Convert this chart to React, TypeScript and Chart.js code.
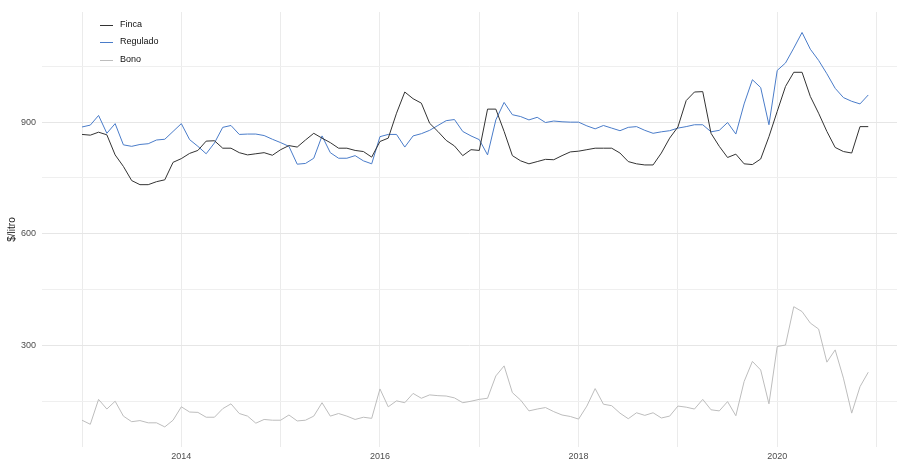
import React, { useEffect, useRef } from "react";
import { Chart, registerables } from "chart.js";

Chart.register(...registerables);

const START_YEAR = 2013;
const MONTH_COUNT = 96;

const finca = [
  867, 865, 873, 866, 812, 781, 743, 732, 732, 740, 745, 792,
  802, 816, 824, 849, 850, 830, 830, 818, 812, 815, 818, 811,
  826, 837, 833, 852, 870, 857, 845, 830, 830, 824, 821, 806,
  848, 857, 924, 981, 963, 951, 897, 875, 851, 836, 810, 826,
  824, 935, 935, 875, 810, 796, 788, 794, 800, 799, 810, 820,
  822, 826, 830, 830, 830, 817, 794, 788, 785, 785, 817, 857,
  887, 958, 981, 982, 870, 835, 805, 814, 788, 786, 801, 861,
  929, 996, 1034, 1034, 969, 924, 875, 832, 821, 817, 888, 888,
];

const regulado = [
  887, 892, 918, 870, 896, 839, 835, 840, 842, 852, 854, 875,
  896, 853, 835, 815, 844, 886, 891, 867, 868, 868, 864, 854,
  845, 835, 787, 789, 803, 863, 818, 803, 803, 810, 796, 788,
  861, 867, 867, 833, 863, 869, 878, 891, 904, 907, 875, 863,
  853, 812, 906, 953, 920, 915, 906, 913, 899, 903, 901, 900,
  900, 890, 882, 891, 884, 877, 886, 888, 878, 870, 874, 877,
  884, 888, 893, 893, 874, 878, 899, 868, 949, 1014, 993, 893,
  1039, 1059, 1099, 1141, 1096, 1066, 1030, 991, 966, 956, 949, 973,
];

const bono = [
  99, 88, 155, 129, 150, 110, 95, 98, 92, 92, 81, 99,
  135, 121, 120, 107, 107, 130, 143, 117, 110, 91, 101, 99,
  99, 113, 97, 99, 110, 146, 110, 117, 110, 101, 107, 104,
  183, 135, 151, 146, 171, 158, 167, 165, 164, 159, 146, 150,
  155, 158, 218, 245, 173, 153, 124, 129, 133, 122, 113, 109,
  102, 137, 184, 142, 138, 118, 103, 119, 112, 119, 105, 110,
  137, 134, 129, 155, 127, 124, 149, 111, 203, 257, 234, 143,
  297, 301, 404, 391, 360, 344, 255, 288, 212, 118, 189, 228,
];

const yTickValues = [150, 300, 450, 600, 750, 900, 1050];
const yLabelled = [300, 600, 900];
const xTickValues = [2013, 2014, 2015, 2016, 2017, 2018, 2019, 2020, 2021];
const xLabelled = [2014, 2016, 2018, 2020];

const seriesNames = ["Finca", "Regulado", "Bono"];
const seriesColors = ["#333333", "#4A7CC9", "#BDBDBD"];

const monthX = Array.from({ length: MONTH_COUNT }, (_, i) => START_YEAR + i / 12);

const toPoints = (vals: number[]) => vals.map((v, i) => ({ x: monthX[i], y: v }));

const legendPlugin = {
  id: "insideLegend",
  afterDraw(chart: any) {
    const ctx = chart.ctx;
    ctx.save();
    const entries = chart.data.datasets;
    const x0 = 100;
    const rows = [25, 42, 60];
    ctx.font = "9px 'Liberation Sans', Arial, sans-serif";
    ctx.textBaseline = "middle";
    ctx.textAlign = "left";
    entries.forEach((ds: any, i: number) => {
      const y = rows[i];
      ctx.strokeStyle = ds.borderColor;
      ctx.lineWidth = 1;
      ctx.beginPath();
      ctx.moveTo(x0, y + 0.5);
      ctx.lineTo(x0 + 13, y + 0.5);
      ctx.stroke();
      ctx.fillStyle = "#111111";
      ctx.fillText(ds.label, x0 + 20, y);
    });
    ctx.restore();
  },
};

export default function App() {
  const ref = useRef<HTMLCanvasElement | null>(null);

  useEffect(() => {
    if (!ref.current) return;
    const datasets = [finca, regulado, bono].map((vals, i) => ({
      label: seriesNames[i],
      data: toPoints(vals),
      borderColor: seriesColors[i],
      backgroundColor: seriesColors[i],
      borderWidth: 1,
      pointRadius: 0,
      tension: 0,
      fill: false,
    }));
    const chart = new Chart(ref.current, {
      type: "line",
      data: { datasets },
      plugins: [legendPlugin],
      options: {
        animation: false,
        responsive: true,
        maintainAspectRatio: false,
        layout: { padding: { top: 12, right: 0, bottom: 0, left: 0 } },
        plugins: {
          legend: { display: false },
          tooltip: { enabled: false },
        },
        scales: {
          x: {
            type: "linear",
            min: 2012.597,
            max: 2021.206,
            border: { display: false },
            grid: { color: "#EBEBEB", lineWidth: 1, drawTicks: false },
            afterBuildTicks: (scale: any) => {
              scale.ticks = xTickValues.map((v) => ({ value: v }));
            },
            afterFit: (scale: any) => {
              scale.height = 13;
            },
            ticks: {
              padding: 4,
              color: "#4D4D4D",
              font: { family: "'Liberation Sans', Arial, sans-serif", size: 9 },
              maxRotation: 0,
              autoSkip: false,
              callback: (v: any) => (xLabelled.includes(Number(v)) ? String(v) : ""),
            },
          },
          y: {
            type: "linear",
            min: 27,
            max: 1196,
            border: { display: false },
            grid: {
              color: (c: any) =>
                c.tick && yLabelled.includes(c.tick.value) ? "#E6E6E6" : "#EFEFEF",
              lineWidth: 1,
              drawTicks: false,
            },
            afterBuildTicks: (scale: any) => {
              scale.ticks = yTickValues.map((v) => ({ value: v }));
            },
            afterFit: (scale: any) => {
              scale.width = 42;
            },
            title: {
              display: true,
              text: "$/litro",
              color: "#1A1A1A",
              font: { family: "'Liberation Sans', Arial, sans-serif", size: 10 },
              padding: { top: 6, bottom: 0 },
            },
            ticks: {
              padding: 6,
              color: "#4D4D4D",
              font: { family: "'Liberation Sans', Arial, sans-serif", size: 9 },
              autoSkip: false,
              callback: (v: any) => (yLabelled.includes(Number(v)) ? String(v) : ""),
            },
          },
        },
      },
    });
    return () => chart.destroy();
  }, []);

  return (
    <div style={{ position: "absolute", left: 0, top: 0, width: 897, height: 460, background: "#fff" }}>
      <canvas ref={ref} />
    </div>
  );
}
